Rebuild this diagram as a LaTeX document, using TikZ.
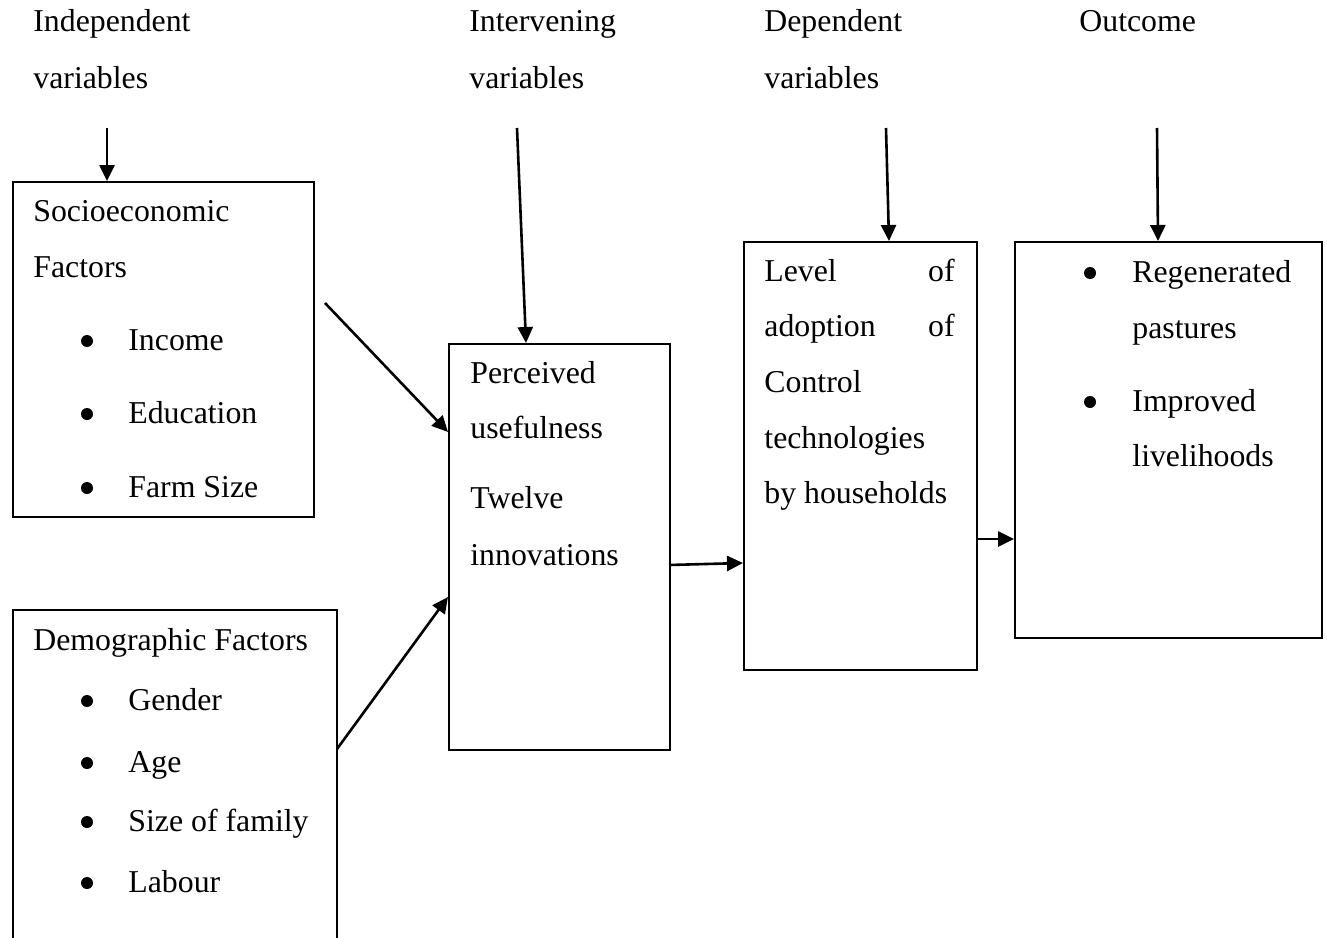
\documentclass[tikz,border=0pt]{standalone}
\usepackage{fontspec}
\setmainfont{Liberation Serif}
\usetikzlibrary{arrows.meta,calc}
\begin{document}
\begin{tikzpicture}[x=0.5pt,y=-0.5pt,
 txt/.style={anchor=base west,inner sep=0,font=\fontsize{15.9}{19}\selectfont},
 txtr/.style={anchor=base east,inner sep=0,font=\fontsize{15.9}{19}\selectfont},
 box/.style={draw,line width=1pt,anchor=north west,inner sep=0},
 arr/.style={line width=1.3pt,-{Triangle[length=8pt,width=7.5pt]}},
 dot/.style={circle,fill,inner sep=0,minimum size=6pt}]
\useasboundingbox (0,0) rectangle (1327,937);
% top labels
\node[txt] (l1a) at (33,32) {Independent};
\node[txt] (l1b) at (33,88) {variables};
\node[txt] (l2a) at (469,32) {Intervening};
\node[txt] (l2b) at (469,88) {variables};
\node[txt] (l3a) at (764,32) {Dependent};
\node[txt] (l3b) at (764,88) {variables};
\node[txt] (l4a) at (1079,32) {Outcome};
% boxes
\node[box,minimum width=150.5pt,minimum height=167.5pt] (b1) at (12,181) {};
\node[box,minimum width=162pt,minimum height=180pt] (b2) at (12,609) {};
\node[box,minimum width=110.5pt,minimum height=203pt] (b3) at (448,343) {};
\node[box,minimum width=116.5pt,minimum height=214pt] (b4) at (743,241) {};
\node[box,minimum width=153.5pt,minimum height=198pt] (b5) at (1014,241) {};
% box1 text
\node[txt] (t11) at (33,221) {Socioeconomic};
\node[txt] (t12) at (33,277) {Factors};
\node[dot] (d11) at (87,341) {}; \node[txt] (t13) at (128,350) {Income};
\node[dot] (d12) at (87,414) {}; \node[txt] (t14) at (128,423) {Education};
\node[dot] (d13) at (87,488) {}; \node[txt] (t15) at (128,497) {Farm Size};
% box2 text
\node[txt] (t21) at (33,650) {Demographic Factors};
\node[dot] (d21) at (87,701) {}; \node[txt] (t22) at (128,710) {Gender};
\node[dot] (d22) at (87,763) {}; \node[txt] (t23) at (128,772) {Age};
\node[dot] (d23) at (87,822) {}; \node[txt] (t24) at (128,831) {Size of family};
\node[dot] (d24) at (87,883) {}; \node[txt] (t25) at (128,892) {Labour};
% box3 text
\node[txt] (t31) at (470,383) {Perceived};
\node[txt] (t32) at (470,438) {usefulness};
\node[txt] (t33) at (470,508) {Twelve};
\node[txt] (t34) at (470,565) {innovations};
% box4 text
\node[txt] (t41) at (764,281) {Level};
\node[txtr] (t41r) at (955,281) {of};
\node[txt] (t42) at (764,336) {adoption};
\node[txtr] (t42r) at (955,336) {of};
\node[txt] (t43) at (764,392) {Control};
\node[txt] (t44) at (764,448) {technologies};
\node[txt] (t45) at (764,503) {by households};
% box5 text
\node[dot] (d51) at (1090,273) {}; \node[txt] (t51) at (1132,282) {Regenerated};
\node[txt] (t52) at (1132,338) {pastures};
\node[dot] (d52) at (1090,402) {}; \node[txt] (t53) at (1132,411) {Improved};
\node[txt] (t54) at (1132,466) {livelihoods};
% connector coordinates
\coordinate (s1) at (107,128);
\coordinate (s2) at (517,128);
\coordinate (s3) at (886,128);
\coordinate (s4) at (1157,128);
\coordinate (e2) at (526,343);
\coordinate (e3) at (889,241);
\coordinate (e4) at (1158,241);
\coordinate (p1) at (325,303);
\coordinate (p2) at (337,749);
\coordinate (q1) at (448,432);
\coordinate (q2) at (448,597);
\coordinate (r1) at (669,565);
\coordinate (r2) at (743,563);
\coordinate (u1) at (976,539);
\coordinate (u2) at (1014,539);
% connectors
\draw[arr] (s1) -- (b1.north west -| s1);
\draw[arr] (s2) -- (e2);
\draw[arr] (s3) -- (e3);
\draw[arr] (s4) -- (e4);
\draw[arr] (p1) -- (q1);
\draw[arr] (p2) -- (q2);
\draw[arr] (r1) -- (r2);
\draw[arr] (u1) -- (u2);
\end{tikzpicture}
\end{document}
